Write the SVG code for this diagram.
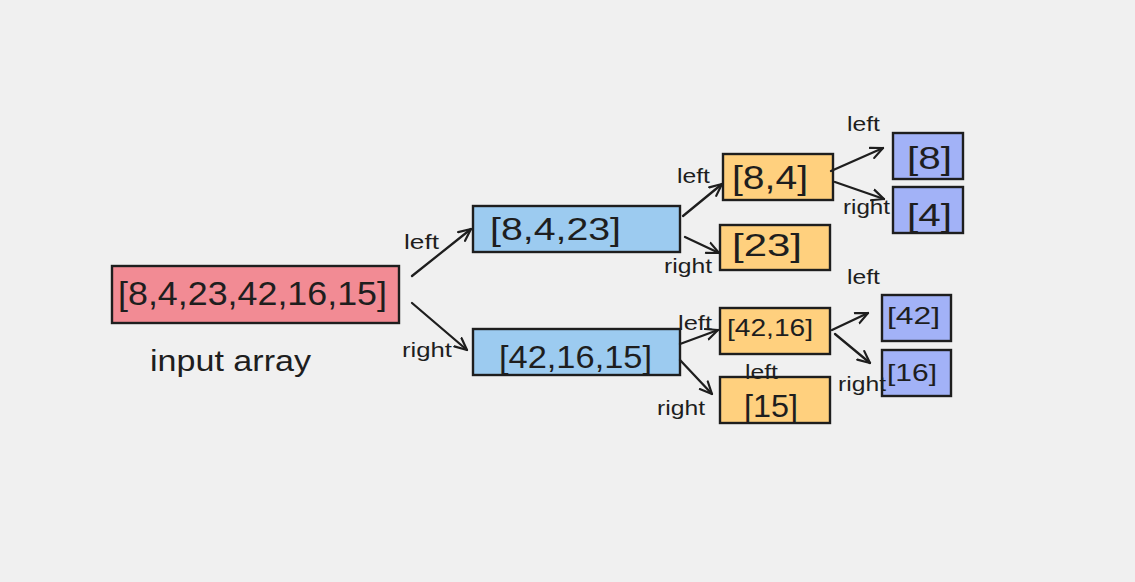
<svg xmlns="http://www.w3.org/2000/svg" width="1135" height="582" viewBox="0 0 1135 582">
<defs>
<marker id="ah" viewBox="0 0 14 14" refX="13" refY="7" markerWidth="14" markerHeight="14" markerUnits="userSpaceOnUse" orient="auto">
<path d="M1,1.5 L13,7 L1,12.5" fill="none" stroke="#1e1e1e" stroke-width="2.2" stroke-linecap="round" stroke-linejoin="round"/>
</marker>
</defs>
<style>
.box{stroke:#1e1e1e;stroke-width:2.4}
.pink{fill:#f28b94}
.blue{fill:#9ccbf0}
.orange{fill:#ffd07e}
.purple{fill:#a2b2f7}
text{font-family:"Liberation Sans",Arial,sans-serif;fill:#1e1e1e}
.lbl{font-size:20px}
.conn line{stroke:#1e1e1e;stroke-width:2.3;stroke-linecap:round;fill:none}
</style>
<rect width="1135" height="582" fill="#f0f0f0"/>
<g id="root">
<rect class="box pink" x="112" y="266" width="287" height="57"/>
<text x="118" y="305" font-size="34" textLength="269" lengthAdjust="spacingAndGlyphs">[8,4,23,42,16,15]</text>
</g>
<g id="caption">
<text x="150" y="371" font-size="30" textLength="161" lengthAdjust="spacingAndGlyphs">input array</text>
</g>
<g id="n1">
<rect class="box blue" x="473" y="206" width="207" height="46"/>
<text x="490" y="240" font-size="32" textLength="131" lengthAdjust="spacingAndGlyphs">[8,4,23]</text>
</g>
<g id="n2">
<rect class="box blue" x="473" y="329" width="207" height="46"/>
<text x="499" y="368" font-size="32" textLength="153" lengthAdjust="spacingAndGlyphs">[42,16,15]</text>
</g>
<g id="n3">
<rect class="box orange" x="723" y="154" width="110" height="46"/>
<text x="732" y="189" font-size="34" textLength="76" lengthAdjust="spacingAndGlyphs">[8,4]</text>
</g>
<g id="n4">
<rect class="box orange" x="720" y="225" width="110" height="45"/>
<text x="732" y="256" font-size="32" textLength="70" lengthAdjust="spacingAndGlyphs">[23]</text>
</g>
<g id="n5">
<rect class="box orange" x="720" y="308" width="110" height="46"/>
<text x="727" y="336" font-size="24" textLength="86" lengthAdjust="spacingAndGlyphs">[42,16]</text>
</g>
<g id="n6">
<rect class="box orange" x="720" y="377" width="110" height="46"/>
<text x="744" y="417" font-size="32" textLength="54" lengthAdjust="spacingAndGlyphs">[15]</text>
</g>
<g id="n7">
<rect class="box purple" x="893" y="133" width="70" height="46"/>
<text x="907" y="169" font-size="32" textLength="45" lengthAdjust="spacingAndGlyphs">[8]</text>
</g>
<g id="n8">
<rect class="box purple" x="893" y="187" width="70" height="46"/>
<text x="907" y="226" font-size="32" textLength="45" lengthAdjust="spacingAndGlyphs">[4]</text>
</g>
<g id="n9">
<rect class="box purple" x="882" y="295" width="69" height="46"/>
<text x="887" y="324" font-size="24" textLength="53" lengthAdjust="spacingAndGlyphs">[42]</text>
</g>
<g id="n10">
<rect class="box purple" x="882" y="350" width="69" height="46"/>
<text x="887" y="381" font-size="24" textLength="50" lengthAdjust="spacingAndGlyphs">[16]</text>
</g>
<g id="connectors" class="conn">
<line x1="412" y1="276" x2="471" y2="229" marker-end="url(#ah)"/>
<line x1="412" y1="303" x2="467" y2="350" marker-end="url(#ah)"/>
<line x1="683" y1="216" x2="722" y2="184" marker-end="url(#ah)"/>
<line x1="685" y1="237" x2="719" y2="253" marker-end="url(#ah)"/>
<line x1="831" y1="171" x2="883" y2="148" marker-end="url(#ah)"/>
<line x1="835" y1="182" x2="884" y2="199" marker-end="url(#ah)"/>
<line x1="680" y1="344" x2="718" y2="330" marker-end="url(#ah)"/>
<line x1="680" y1="360" x2="712" y2="394" marker-end="url(#ah)"/>
<line x1="832" y1="330" x2="868" y2="313" marker-end="url(#ah)"/>
<line x1="835" y1="334" x2="870" y2="363" marker-end="url(#ah)"/>
</g>
<g id="labels">
<text class="lbl" x="404" y="249" textLength="35" lengthAdjust="spacingAndGlyphs">left</text>
<text class="lbl" x="402" y="357" textLength="50" lengthAdjust="spacingAndGlyphs">right</text>
<text class="lbl" x="677" y="183" textLength="33" lengthAdjust="spacingAndGlyphs">left</text>
<text class="lbl" x="664" y="273" textLength="48" lengthAdjust="spacingAndGlyphs">right</text>
<text class="lbl" x="847" y="131" textLength="33" lengthAdjust="spacingAndGlyphs">left</text>
<text class="lbl" x="843" y="214" textLength="47" lengthAdjust="spacingAndGlyphs">right</text>
<text class="lbl" x="847" y="284" textLength="33" lengthAdjust="spacingAndGlyphs">left</text>
<text class="lbl" x="678" y="330" textLength="34" lengthAdjust="spacingAndGlyphs">left</text>
<text class="lbl" x="745" y="379" textLength="33" lengthAdjust="spacingAndGlyphs">left</text>
<text class="lbl" x="838" y="391" textLength="48" lengthAdjust="spacingAndGlyphs">right</text>
<text class="lbl" x="657" y="415" textLength="48" lengthAdjust="spacingAndGlyphs">right</text>
</g>
</svg>
